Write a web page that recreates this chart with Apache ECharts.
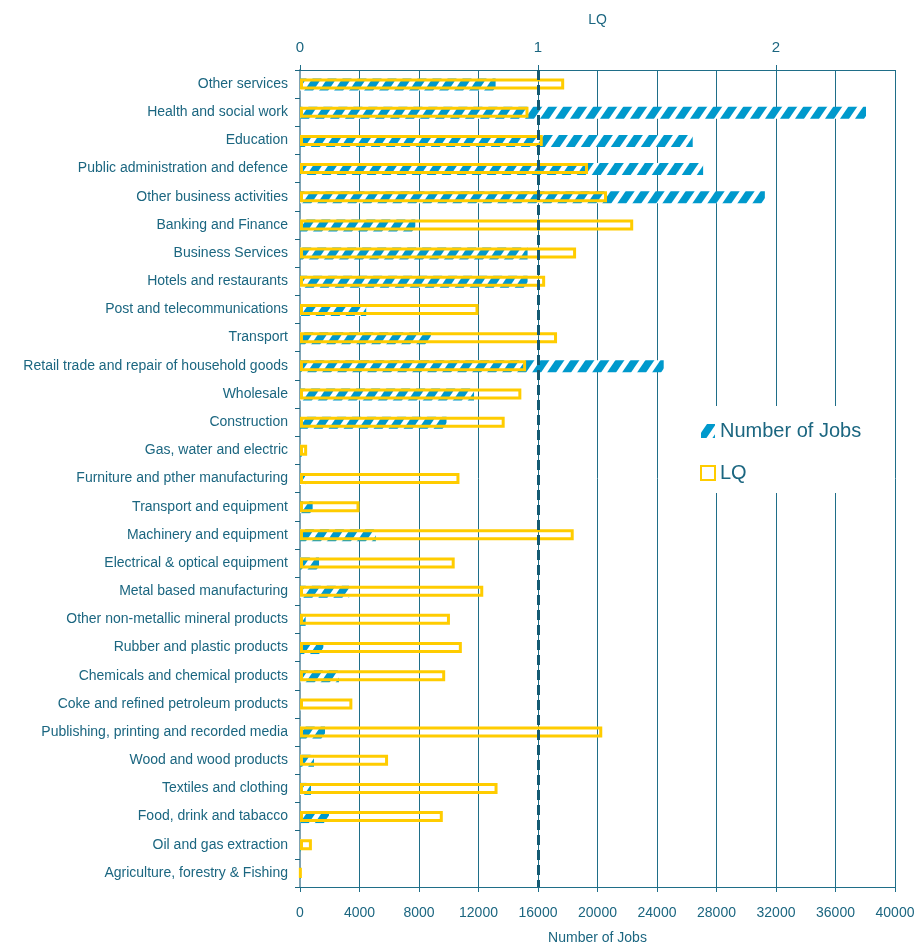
<!DOCTYPE html>
<html>
<head>
<meta charset="utf-8">
<title>Number of Jobs and LQ by sector</title>
<script src="https://cdn.jsdelivr.net/npm/echarts@6/dist/echarts.min.js"></script>
<style>
  html, body { margin: 0; padding: 0; background: #ffffff; }
  #chart { width: 920px; height: 945px; }
</style>
</head>
<body>
<div id="chart"></div>
<script>
// Sectors, listed top to bottom as they appear on the chart
var categories = [
  'Other services',
  'Health and social work',
  'Education',
  'Public administration and defence',
  'Other business activities',
  'Banking and Finance',
  'Business Services',
  'Hotels and restaurants',
  'Post and telecommunications',
  'Transport',
  'Retail trade and repair of household goods',
  'Wholesale',
  'Construction',
  'Gas, water and electric',
  'Furniture and pther manufacturing',
  'Transport and equipment',
  'Machinery and equipment',
  'Electrical & optical equipment',
  'Metal based manufacturing',
  'Other non-metallic mineral products',
  'Rubber and plastic products',
  'Chemicals and chemical products',
  'Coke and refined petroleum products',
  'Publishing, printing and recorded media',
  'Wood and wood products',
  'Textiles and clothing',
  'Food, drink and tabacco',
  'Oil and gas extraction',
  'Agriculture, forestry & Fishing'
];

// Employment per sector
var jobs = [
  13150, 38050, 26400, 27100, 31250, 7750, 15300, 15300, 4450, 8800,
  24450, 11700, 9850, 120, 350, 850, 5100, 1280, 3300, 380,
  1570, 2620, 40, 1680, 940, 740, 1950, 60, 30
];

// Location quotient per sector
var lq = [
  1.11, 0.96, 1.02, 1.21, 1.29, 1.40, 1.16, 1.03, 0.75, 1.08,
  0.95, 0.93, 0.86, 0.03, 0.67, 0.25, 1.15, 0.65, 0.77, 0.63,
  0.68, 0.61, 0.22, 1.27, 0.37, 0.83, 0.60, 0.05, 0.003
];

var jobTicks = [0, 4000, 8000, 12000, 16000, 20000, 24000, 28000, 32000, 36000, 40000];
var lqTicks = [0, 1, 2];
var lqReference = 1;

var TEAL = '#1b6680';
var GRID_TEAL = '#1f6e88';
var BLUE = '#0099cc';
var YELLOW = '#ffcc00';

// Diagonal white-on-blue hatch used for the job bars
function makeHatch() {
  var W = 15, H = 22, a = 6;
  var c = document.createElement('canvas');
  c.width = W; c.height = H;
  var g = c.getContext('2d');
  g.fillStyle = BLUE;
  g.fillRect(0, 0, W, H);
  g.fillStyle = '#ffffff';
  for (var k = -1; k <= 1; k++) {
    var o = k * W;
    g.beginPath();
    g.moveTo(o, H);
    g.lineTo(o + a, H);
    g.lineTo(o + a + W, 0);
    g.lineTo(o + W, 0);
    g.closePath();
    g.fill();
  }
  return c;
}
var hatch = makeHatch();

var FONT = 'Liberation Sans, Arial, sans-serif';

var chart = echarts.init(document.getElementById('chart'), null, { renderer: 'canvas' });

chart.setOption({
  backgroundColor: '#ffffff',
  animation: false,
  textStyle: { fontFamily: FONT, color: TEAL },
  grid: { left: 300, right: 25, top: 70, bottom: 58, containLabel: false, outerBoundsMode: 'none' },
  legend: {
    orient: 'vertical',
    left: 685,
    top: 406,
    padding: [15, 15, 10, 15],
    backgroundColor: '#ffffff',
    itemGap: 22,
    itemWidth: 14,
    itemHeight: 14,
    icon: 'rect',
    textStyle: { fontFamily: FONT, fontSize: 20, color: TEAL },
    data: ['Number of Jobs', 'LQ']
  },
  xAxis: [
    {
      type: 'value',
      position: 'bottom',
      min: jobTicks[0],
      max: jobTicks[jobTicks.length - 1],
      interval: jobTicks[1] - jobTicks[0],
      name: 'Number of Jobs',
      nameLocation: 'middle',
      nameGap: 44,
      nameTextStyle: { fontFamily: FONT, fontSize: 14, color: TEAL },
      axisLine: { show: true, lineStyle: { color: GRID_TEAL, width: 1 } },
      axisTick: { show: true, length: 5, lineStyle: { color: GRID_TEAL } },
      axisLabel: {
        fontFamily: FONT, fontSize: 14, color: TEAL, margin: 19,
        formatter: function (v) { return String(v); }
      },
      splitLine: { show: true, lineStyle: { color: GRID_TEAL, width: 1 } }
    },
    {
      type: 'value',
      position: 'top',
      min: 0,
      max: jobTicks[jobTicks.length - 1] / 16000,
      name: 'LQ',
      nameLocation: 'middle',
      nameGap: 43,
      nameTextStyle: { fontFamily: FONT, fontSize: 14, color: TEAL },
      axisLine: { show: true, lineStyle: { color: GRID_TEAL, width: 1 } },
      axisTick: { show: true, length: 5, customValues: lqTicks, lineStyle: { color: GRID_TEAL } },
      axisLabel: {
        fontFamily: FONT, fontSize: 15, color: TEAL, margin: 15, customValues: lqTicks,
        formatter: function (v) { return String(v); }
      },
      splitLine: { show: false }
    }
  ],
  yAxis: {
    type: 'category',
    inverse: true,
    data: categories,
    axisLine: { show: true, lineStyle: { color: '#7fa3b3', width: 2 } },
    axisTick: { show: true, length: 5, alignWithLabel: false, lineStyle: { color: TEAL } },
    axisLabel: { interval: 0, fontFamily: FONT, fontSize: 14, color: TEAL, margin: 12, padding: [3, 0, 0, 0] },
    splitLine: { show: false }
  },
  series: [
    {
      name: 'Number of Jobs',
      type: 'bar',
      xAxisIndex: 0,
      data: jobs,
      barWidth: 12,
      barGap: '-100%',
      itemStyle: { color: { image: hatch, repeat: 'repeat' } },
      z: 2
    },
    {
      name: 'LQ',
      type: 'bar',
      xAxisIndex: 1,
      data: lq,
      barWidth: 11,
      barGap: '-100%',
      itemStyle: { color: 'rgba(255,255,255,0)', borderColor: YELLOW, borderWidth: 3 },
      z: 3,
      markLine: {
        silent: true,
        symbol: ['none', 'none'],
        label: { show: false },
        lineStyle: { color: '#145a72', width: 3, type: [10, 5] },
        data: [{ xAxis: lqReference }]
      }
    }
  ]
});
</script>
</body>
</html>
